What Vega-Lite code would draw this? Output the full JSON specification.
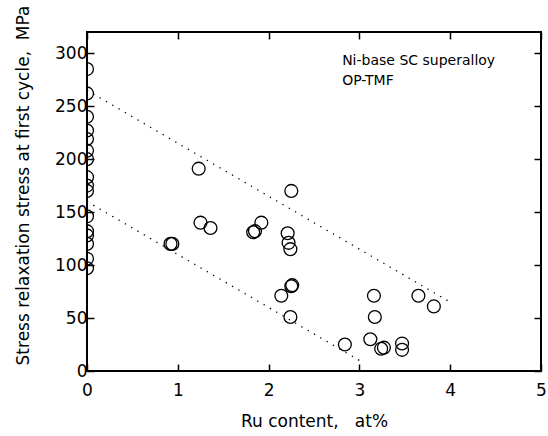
{
  "$schema": "https://vega.github.io/schema/vega-lite/v6.json",
  "width": 454,
  "height": 339,
  "autosize": "none",
  "padding": {"left": 87, "top": 32, "right": 7, "bottom": 65},
  "background": "white",
  "config": {
    "view": {"stroke": "black", "strokeWidth": 2},
    "axis": {
      "domain": false,
      "grid": false,
      "tickColor": "black",
      "tickSize": -7,
      "tickWidth": 1.5,
      "labelFlush": false,
      "labelFont": "DejaVu Sans",
      "labelFontSize": 17,
      "labelColor": "black",
      "titleFont": "DejaVu Sans",
      "titleFontSize": 17,
      "titleFontWeight": "normal",
      "titleColor": "black"
    }
  },
  "resolve": {"axis": {"x": "independent", "y": "independent"}},
  "layer": [
    {
      "data": {
        "values": [
          {"ru": 0, "stress": 285},
          {"ru": 0, "stress": 262},
          {"ru": 0, "stress": 240},
          {"ru": 0, "stress": 227},
          {"ru": 0, "stress": 219},
          {"ru": 0, "stress": 208},
          {"ru": 0, "stress": 200},
          {"ru": 0, "stress": 183},
          {"ru": 0, "stress": 175},
          {"ru": 0, "stress": 170},
          {"ru": 0, "stress": 146},
          {"ru": 0, "stress": 132},
          {"ru": 0, "stress": 128},
          {"ru": 0, "stress": 120},
          {"ru": 0, "stress": 106},
          {"ru": 0, "stress": 97},
          {"ru": 0.92, "stress": 120},
          {"ru": 0.94, "stress": 120},
          {"ru": 1.23, "stress": 191},
          {"ru": 1.25, "stress": 140},
          {"ru": 1.36, "stress": 135},
          {"ru": 1.83, "stress": 131},
          {"ru": 1.85, "stress": 132},
          {"ru": 1.92, "stress": 140},
          {"ru": 2.25, "stress": 170},
          {"ru": 2.21, "stress": 130},
          {"ru": 2.22, "stress": 121},
          {"ru": 2.24, "stress": 115},
          {"ru": 2.25, "stress": 80},
          {"ru": 2.26, "stress": 81},
          {"ru": 2.14, "stress": 71},
          {"ru": 2.24, "stress": 51},
          {"ru": 2.84, "stress": 25},
          {"ru": 3.16, "stress": 71},
          {"ru": 3.17, "stress": 51},
          {"ru": 3.12, "stress": 30},
          {"ru": 3.24, "stress": 21},
          {"ru": 3.27, "stress": 22},
          {"ru": 3.47, "stress": 26},
          {"ru": 3.47, "stress": 20},
          {"ru": 3.65, "stress": 71},
          {"ru": 3.82, "stress": 61}
        ]
      },
      "mark": {"type": "point", "shape": "circle", "size": 165, "stroke": "black", "strokeWidth": 1.3, "fill": null, "opacity": 1, "clip": true},
      "encoding": {
        "x": {
          "field": "ru", "type": "quantitative",
          "scale": {"domain": [0, 5], "nice": false},
          "axis": {"values": [0, 1, 2, 3, 4, 5], "labelPadding": 18, "title": "Ru content,\u00a0\u00a0\u00a0at%", "titlePadding": 15}
        },
        "y": {
          "field": "stress", "type": "quantitative",
          "scale": {"domain": [0, 320], "nice": false},
          "axis": {"values": [0, 50, 100, 150, 200, 250, 300], "labelPadding": 7, "title": "Stress relaxation stress at first cycle,\u00a0\u00a0MPa", "titleX": -55, "titleY": 153}
        }
      }
    },
    {
      "data": {
        "values": [
          {"ru": 0, "stress": 265, "line": "upper"},
          {"ru": 4, "stress": 65, "line": "upper"},
          {"ru": 0, "stress": 160, "line": "lower"},
          {"ru": 3, "stress": 10, "line": "lower"}
        ]
      },
      "mark": {"type": "line", "stroke": "black", "strokeWidth": 1.3, "strokeDash": [1.3, 6]},
      "encoding": {
        "x": {"field": "ru", "type": "quantitative", "axis": {"orient": "top", "values": [0, 1, 2, 3, 4, 5], "labels": false, "title": null}},
        "y": {"field": "stress", "type": "quantitative", "axis": {"orient": "right", "values": [0, 50, 100, 150, 200, 250, 300], "labels": false, "title": null}},
        "detail": {"field": "line"}
      }
    },
    {
      "data": {
        "values": [
          {"ru": 2.81, "stress": 289, "label": "Ni-base SC superalloy"},
          {"ru": 2.81, "stress": 270, "label": "OP-TMF"}
        ]
      },
      "mark": {"type": "text", "align": "left", "baseline": "alphabetic", "font": "DejaVu Sans", "fontSize": 14, "color": "black"},
      "encoding": {
        "x": {"field": "ru", "type": "quantitative", "axis": null},
        "y": {"field": "stress", "type": "quantitative", "axis": null},
        "text": {"field": "label"}
      }
    }
  ]
}
